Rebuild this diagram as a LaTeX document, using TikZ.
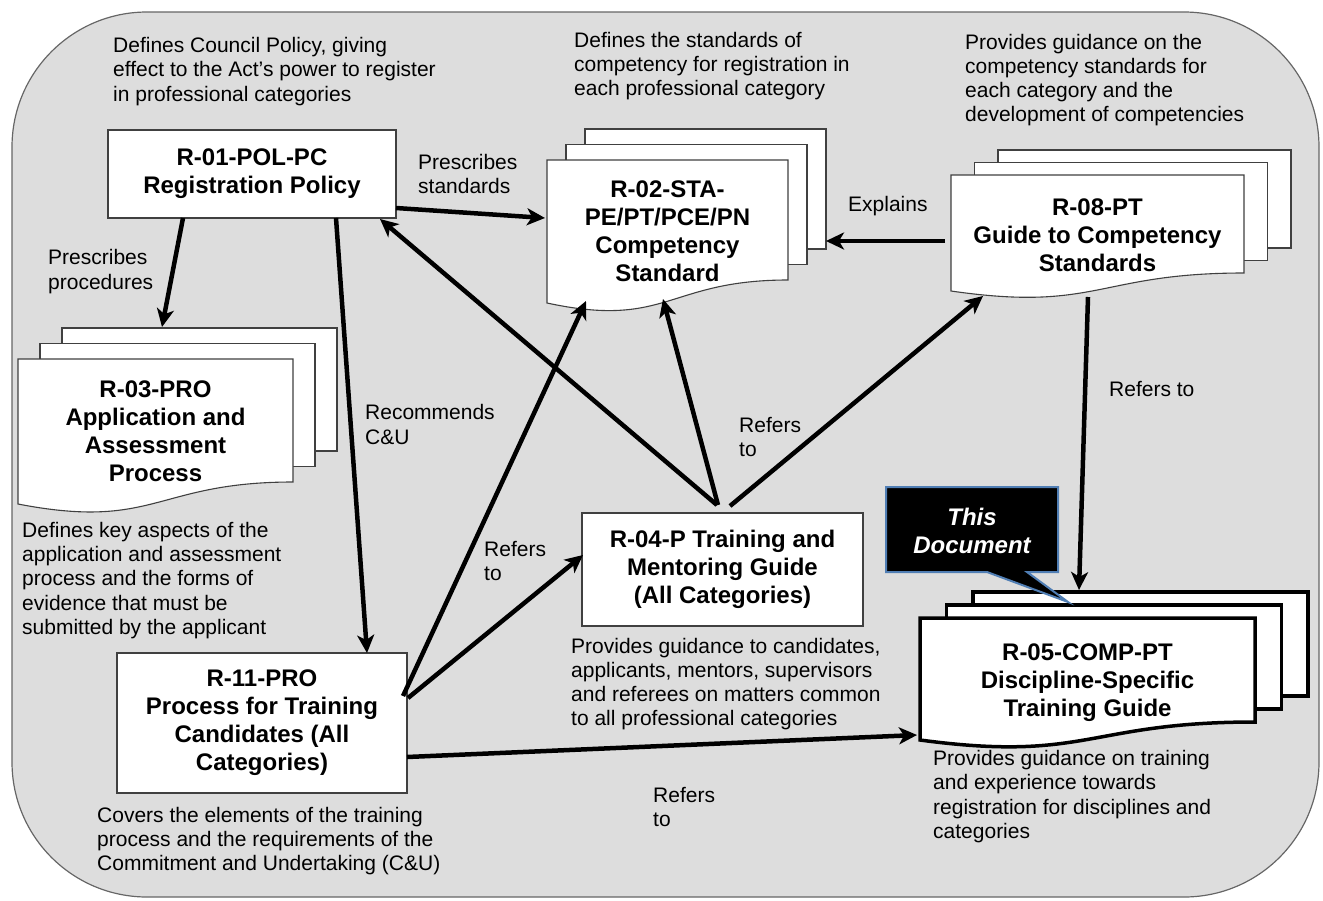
\documentclass[tikz,border=0pt]{standalone}
\usepackage{fontspec}
\setmainfont{Liberation Sans}
\usetikzlibrary{arrows.meta,calc}
\definecolor{bggray}{RGB}{221,221,221}
\definecolor{edgegray}{RGB}{64,64,64}
\definecolor{callblue}{RGB}{80,126,180}
\newcommand\btfont{\fontsize{24}{28}\selectfont\bfseries}
\newcommand\dfont{\fontsize{21}{24.2}\selectfont}
\tikzset{
 bgshape/.style={fill=bggray, draw=black!60, line width=1.2pt, rounded corners=135pt},
 page/.style={fill=white, draw=edgegray, line width=1.1pt},
 thickpage/.style={fill=white, draw=black, line width=3.5pt},
 frame/.style={inner sep=0pt, outer sep=0pt, draw=none},
 box/.style={fill=white, draw=edgegray, line width=1.1pt, inner sep=0pt, outer sep=0pt, align=center, font=\btfont},
 btext/.style={align=center, font=\btfont, inner sep=0pt},
 desc/.style={align=left, anchor=west, font=\dfont, inner sep=0pt},
 conn/.style={line width=4.5pt, -{Stealth[length=18pt,width=17pt,inset=5pt]}},
}
% #1 L, #2 T, #3 W, #4 HR, #5 HL, #6 dx, #7 dy, #8 style, #9 name
\newcommand\multidoc[9]{%
  \foreach \k in {2,1}{%
    \path[#8] ({#1+\k*#6},{#2-\k*#7}) rectangle ({#1+#3+\k*#6},{#2+#4-\k*#7});
  }
  \path[#8] (#1,#2) -- ({#1+#3},#2) -- ({#1+#3},{#2+#4}) .. controls ({#1+#3/2},{#2+#4}) and ({#1+#3/2},{#2+#5+0.2165*#4}) .. (#1,{#2+#5}) -- cycle;
  \node[frame, minimum width=#3, minimum height=#4, anchor=north west] (#9) at (#1,#2) {};
}
\begin{document}
\begin{tikzpicture}[x=1pt,y=-1pt]
\useasboundingbox (0,0) rectangle (1323,900);
\path[bgshape] (12,12) rectangle (1319,897);

\multidoc{547}{160}{241}{120}{143}{19}{15.5}{page}{r02}
\multidoc{951}{175}{293}{98}{116}{23.5}{12.5}{page}{r08}
\multidoc{18}{359}{275}{123}{145}{22}{15.5}{page}{r03}
\multidoc{920}{618}{335}{104}{122}{26.5}{13}{thickpage}{r05}

\node[btext] (r02t) at (667.5,231.5) {R-02-STA-\\PE/PT/PCE/PN\\Competency\\Standard};
\node[btext] (r08t) at (1097.5,235) {R-08-PT\\Guide to Competency\\Standards};
\node[btext] (r03t) at (155.5,431.5) {R-03-PRO\\Application and\\Assessment\\Process};
\node[btext] (r05t) at (1087.5,682.5) {R-05-COMP-PT\\Discipline-Specific\\Training Guide};

\node[box, minimum width=288pt, minimum height=88pt] (r01) at (252,174) {R-01-POL-PC\\Registration Policy};
\node[box, minimum width=281pt, minimum height=113pt] (r04) at (722.5,569.5) {R-04-P Training and\\Mentoring Guide\\(All Categories)};
\node[box, minimum width=290pt, minimum height=140pt] (r11) at (262,723) {R-11-PRO\\Process for Training\\Candidates (All\\Categories)};

\node[desc] (d01) at (113,71.5) {Defines Council Policy, giving\\effect to the Act’s power to register\\in professional categories};
\node[desc] (d02) at (574,66) {Defines the standards of\\competency for registration in\\each professional category};
\node[desc] (d08) at (965,80) {Provides guidance on the\\competency standards for\\each category and the\\development of competencies};
\node[desc] (d03) at (22,580.5) {Defines key aspects of the\\application and assessment\\process and the forms of\\evidence that must be\\submitted by the applicant};
\node[desc] (d04) at (571,684) {Provides guidance to candidates,\\applicants, mentors, supervisors\\and referees on matters common\\to all professional categories};
\node[desc] (d11) at (97,841) {Covers the elements of the training\\process and the requirements of the\\Commitment and Undertaking (C\&U)};
\node[desc] (d05) at (933,796.5) {Provides guidance on training\\and experience towards\\registration for disciplines and\\categories};

\node[desc] (l1) at (418,174) {Prescribes\\standards};
\node[desc] (l2) at (48,271.5) {Prescribes\\procedures};
\node[desc] (l3) at (848,206) {Explains};
\node[desc] (l4) at (365,424.5) {Recommends\\C\&U};
\node[desc] (l5) at (484,561) {Refers\\to};
\node[desc] (l6) at (739,437) {Refers\\to};
\node[desc] (l7) at (1109,389) {Refers to};
\node[desc] (l8) at (653,807) {Refers\\to};

\draw[conn] ($(r01.south west)+(75,0)$) -- ($(r03.north west)+(144,-32)$);
\draw[conn] ($(r01.south west)+(228,0)$) -- ($(r11.north west)+(250,0)$);
\draw[conn] ($(r01.south east)+(0,-10)$) -- ($(r02.north west)+(-2,58)$);
\draw[conn] ($(r04.north west)+(135,-8)$) -- ($(r01.south east)+(-16,1)$);
\draw[conn] ($(r04.north west)+(136,-8)$) -- ($(r02.north west)+(116,139)$);
\draw[conn] ($(r04.north west)+(148,-7)$) -- ($(r08.north west)+(32,121)$);
\draw[conn] ($(r08.north west)+(-6,66)$) -- ($(r02.north east)+(38,81)$);
\draw[conn] ($(r08.north west)+(137,122)$) -- ($(r05.north west)+(159,-28)$);
\draw[conn] ($(r11.north east)+(-4,43)$) -- ($(r02.north west)+(39,141)$);
\draw[conn] ($(r11.north east)+(1,45)$) -- ($(r04.north west)+(1,42)$);
\draw[conn] ($(r11.north east)+(0,104)$) -- ($(r05.north west)+(-3,117)$);

\path[fill=black, draw=callblue, line width=2pt] (886,487) -- (1058,487) -- (1058,572) -- (1027,572) -- (1068,602) -- (987,572) -- (886,572) -- cycle;
\node[btext, text=white, font=\btfont\itshape] (thisdoc) at (972,531) {This\\Document};
\end{tikzpicture}
\end{document}
